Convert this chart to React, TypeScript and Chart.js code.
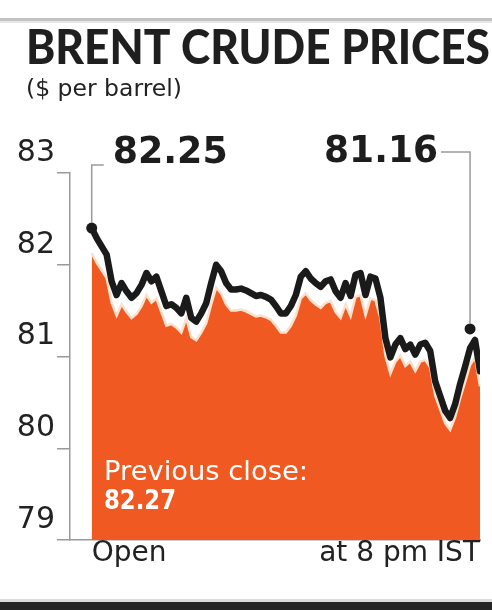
import React, { useEffect, useRef } from "react";
import { Chart, registerables } from "chart.js";
Chart.register(...registerables);

const titleText = "BRENT CRUDE PRICES";
const subtitleText = "($ per barrel)";
const prices = [
  82.40, 82.29, 82.20, 82.11, 81.82, 81.67, 81.80, 81.71, 81.64, 81.69,
  81.78, 81.91, 81.82, 81.87, 81.71, 81.55, 81.57, 81.53, 81.47, 81.64,
  81.42, 81.38, 81.47, 81.58, 81.80, 82.00, 81.93, 81.80, 81.73, 81.73,
  81.74, 81.72, 81.69, 81.66, 81.67, 81.65, 81.62, 81.55, 81.47, 81.47,
  81.55, 81.67, 81.87, 81.93, 81.85, 81.80, 81.76, 81.82, 81.84, 81.71,
  81.64, 81.80, 81.66, 81.89, 81.91, 81.67, 81.87, 81.85, 81.64, 81.20,
  80.99, 81.13, 81.20, 81.08, 81.13, 81.02, 81.13, 81.15, 81.06, 80.73,
  80.57, 80.41, 80.33, 80.48, 80.70, 80.89, 81.09, 81.18, 80.84,
];
const xLabels = ["Open", "at 8 pm IST"];
const yMin = 79;
const yMax = 83;
const markerIndex = [0, 76];
const markerValues = [82.40, 81.30];
const markerLabels = ["82.25", "81.16"];
const prevCloseLabel = "Previous close:";
const prevCloseValue = "82.27";

function fitText(ctx: CanvasRenderingContext2D, text: string, x: number, y: number, font: string, width: number, align: "left" | "right") {
  ctx.save();
  ctx.font = font;
  ctx.textBaseline = "alphabetic";
  ctx.textAlign = "left";
  const w = ctx.measureText(text).width;
  const s = width / w;
  const left = align === "left" ? x : x - width;
  ctx.translate(left, y);
  ctx.scale(s, 1);
  ctx.fillText(text, 0, 0);
  ctx.restore();
}

const decorPlugin = {
  id: "decor",
  beforeDraw(chart: any) {
    const ctx = chart.ctx as CanvasRenderingContext2D;
    ctx.save();
    ctx.fillStyle = "#ffffff";
    ctx.fillRect(0, 0, chart.width, chart.height);
    ctx.fillStyle = "#c2c2c2";
    ctx.fillRect(0, 18, chart.width, 3);
    ctx.fillStyle = "#e6e6e6";
    ctx.fillRect(0, 21, chart.width, 2);
    ctx.fillStyle = "#dcdcdc";
    ctx.fillRect(0, 599, chart.width, 3);
    ctx.fillStyle = "#262626";
    ctx.fillRect(0, 602, chart.width, 8);
    ctx.fillStyle = "#1f1f1f";
    fitText(ctx, titleText, 26, 64, "900 47px Lato", 464, "left");
    ctx.fillStyle = "#222222";
    fitText(ctx, subtitleText, 26, 96, "23px 'DejaVu Sans'", 156, "left");
    ctx.restore();
  },
  afterDatasetsDraw(chart: any) {
    const ctx = chart.ctx as CanvasRenderingContext2D;
    const xs = chart.scales.x;
    const ys = chart.scales.y;
    const top = chart.chartArea.top;
    const left = chart.chartArea.left;
    const x0 = xs.getPixelForValue(markerIndex[0]);
    const y0 = ys.getPixelForValue(markerValues[0]);
    const x1 = xs.getPixelForValue(markerIndex[1]);
    const y1 = ys.getPixelForValue(markerValues[1]);
    ctx.save();
    ctx.strokeStyle = "#9a9a9a";
    ctx.lineWidth = 1.5;
    ctx.beginPath();
    ctx.moveTo(x0, y0 - 5);
    ctx.lineTo(x0, top - 8);
    ctx.lineTo(x0 + 12, top - 8);
    ctx.stroke();
    ctx.beginPath();
    ctx.moveTo(x1, y1 - 5);
    ctx.lineTo(x1, top - 21);
    ctx.lineTo(x1 - 29, top - 21);
    ctx.stroke();
    ctx.fillStyle = "#1d1d1d";
    fitText(ctx, markerLabels[0], x0 + 21, top - 10, "bold 38px 'DejaVu Sans'", 115, "left");
    fitText(ctx, markerLabels[1], x1 - 32, top - 11, "bold 38px 'DejaVu Sans'", 114, "right");
    ctx.fillStyle = "#ffffff";
    fitText(ctx, prevCloseLabel, left + 34, 480, "26px 'DejaVu Sans'", 204, "left");
    fitText(ctx, prevCloseValue, left + 34, 509, "bold 26px 'DejaVu Sans'", 72, "left");
    ctx.restore();
  },
};

export default function App() {
  const ref = useRef<HTMLCanvasElement | null>(null);
  useEffect(() => {
    if (!ref.current) return;
    const lastIdx = prices.length - 1;
    const pts = prices.map((v, i) => ({ x: i, y: v }));
    const chart = new Chart(ref.current, {
      type: "line",
      data: {
        datasets: [
          {
            data: markerIndex.map((i, k) => ({ x: i, y: markerValues[k] })),
            showLine: false,
            pointRadius: 5.5,
            pointBackgroundColor: "#1a1a1a",
            pointBorderWidth: 0,
            yAxisID: "y",
            order: 1,
          } as any,
          {
            data: pts,
            borderColor: "#1a1a1a",
            borderWidth: 6.5,
            pointRadius: 0,
            fill: false,
            tension: 0,
            borderJoinStyle: "round",
            borderCapStyle: "round",
            yAxisID: "y",
            order: 2,
          } as any,
          {
            data: pts,
            borderColor: "#fbe1cc",
            borderWidth: 2.5,
            backgroundColor: "#f05a22",
            pointRadius: 0,
            fill: "start",
            tension: 0,
            yAxisID: "y2",
            order: 3,
          } as any,
        ],
      },
      options: {
        responsive: false,
        animation: false,
        devicePixelRatio: 1,
        layout: { padding: { top: 173, right: 12, left: 0, bottom: 0 } },
        plugins: { legend: { display: false }, tooltip: { enabled: false } },
        scales: {
          x: {
            type: "linear",
            min: -4.36,
            max: lastIdx,
            afterBuildTicks: (s: any) => {
              s.ticks = [{ value: 0 }, { value: lastIdx }];
            },
            afterFit: (s: any) => {
              s.height = 70;
            },
            grid: { display: false, drawTicks: false },
            border: { display: true, color: "#9a9a9a", width: 1.5 },
            ticks: {
              align: "inner",
              autoSkip: false,
              maxRotation: 0,
              padding: -3,
              color: "#222222",
              font: { family: "'DejaVu Sans'", size: 28 },
              callback: (v: any) => (v === 0 ? xLabels[0] : v === lastIdx ? xLabels[1] : ""),
            },
          },
          y: {
            min: yMin,
            max: yMax,
            afterFit: (s: any) => {
              s.width = 70;
            },
            grid: { drawOnChartArea: false, tickLength: 13, color: "#9a9a9a", lineWidth: 1.5 },
            border: { display: true, color: "#9a9a9a", width: 1.5 },
            ticks: {
              stepSize: 1,
              labelOffset: -20,
              padding: 2,
              color: "#222222",
              font: { family: "'DejaVu Sans'", size: 30 },
            },
          },
          y2: { display: false, min: 79.04, max: 83.34 },
        },
      } as any,
      plugins: [decorPlugin],
    });
    return () => chart.destroy();
  }, []);
  return (
    <div style={{ position: "absolute", left: 0, top: 0, width: 492, height: 610 }}>
      <canvas ref={ref} width={492} height={610} style={{ width: 492, height: 610, display: "block" }} />
    </div>
  );
}
